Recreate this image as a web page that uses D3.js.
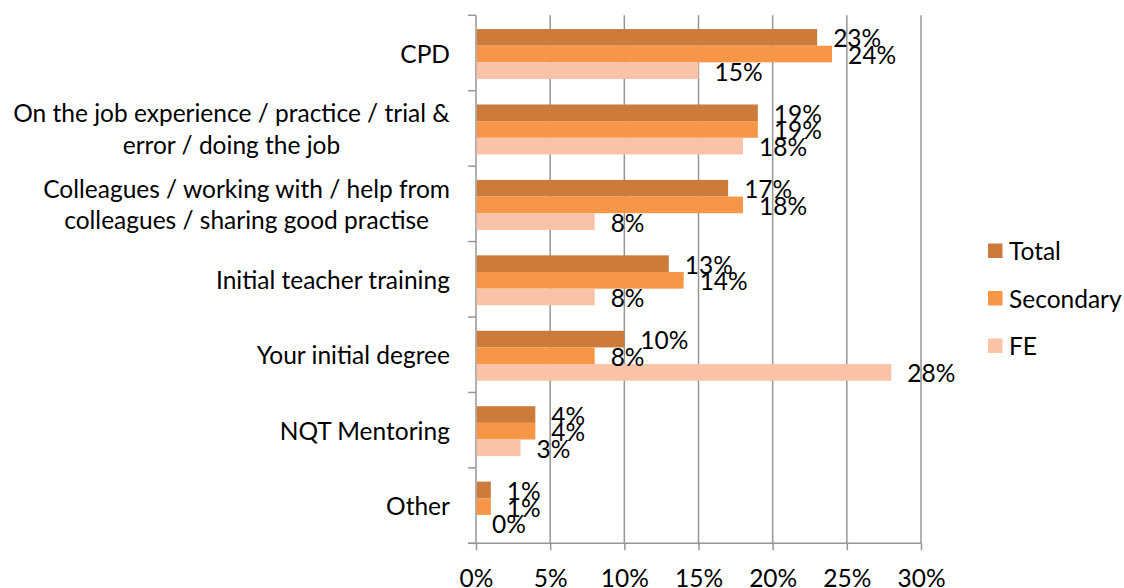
<!DOCTYPE html>
<html><head><meta charset="utf-8">
<script src="https://cdn.jsdelivr.net/npm/d3@7"></script>
<style>
body{margin:0;background:#fff;}
svg text{font-family:Lato,"Open Sans",sans-serif;fill:#000;}
</style></head>
<body><svg id="c" width="1124" height="588"></svg>
<script>
const categories = [
  ["CPD"],
  ["On the job experience / practice / trial &", "error / doing the job"],
  ["Colleagues / working with / help from", "colleagues / sharing good practise"],
  ["Initial teacher training"],
  ["Your initial degree"],
  ["NQT Mentoring"],
  ["Other"]
];
const seriesNames = ["Total", "Secondary", "FE"];
const totalValues     = [23, 19, 17, 13, 10, 4, 1];
const secondaryValues = [24, 19, 18, 14, 8, 4, 1];
const feValues        = [15, 18, 8, 8, 28, 3, 0];
const xTicks = [0, 5, 10, 15, 20, 25, 30];
const colors = ["#CD7B3A", "#F79646", "#FAC2A6"];

(function () {
const series = [totalValues, secondaryValues, feValues];
const svg = d3.select("#c");
const fs = 24.5;
const pl = 476, pr = 921, pt = 15.3, pb = 543.3;
const gridCol = "#969696";

const x = d3.scaleLinear().domain([0, 30]).range([pl, pr]);
const y = d3.scaleBand().domain(d3.range(categories.length)).range([pt, pb]).paddingInner(0).paddingOuter(0);
const yInner = d3.scaleBand().domain(d3.range(3)).range([0, y.bandwidth()])
  .paddingOuter(0.765).paddingInner(0).align(0.54);

// grid lines
svg.append("g").selectAll("line").data(xTicks.slice(1)).join("line")
  .attr("x1", d => x(d)).attr("x2", d => x(d))
  .attr("y1", pt).attr("y2", pb)
  .attr("stroke", gridCol).attr("stroke-width", 1.5);

// bottom axis
const xAxis = d3.axisBottom(x).tickValues(xTicks).tickFormat(d => d + "%").tickSize(7).tickSizeOuter(0);
const gx = svg.append("g").attr("transform", `translate(0,${pb})`).call(xAxis);
gx.select(".domain").attr("stroke", gridCol).attr("stroke-width", 1.5).attr("d", `M${pl-8},0H${pr}`);
gx.selectAll(".tick line").attr("stroke", gridCol).attr("stroke-width", 1.5);
gx.selectAll(".tick text").attr("font-size", fs + "px").attr("font-family", "Lato").attr("fill", "#000")
  .attr("y", 43.5).attr("dy", 0);

// left axis line and ticks
const bounds = d3.range(categories.length + 1).map(i => pt + i * y.bandwidth());
svg.append("line").attr("x1", pl).attr("x2", pl).attr("y1", pt).attr("y2", pb)
  .attr("stroke", gridCol).attr("stroke-width", 1.5);
svg.append("g").selectAll("line").data(bounds).join("line")
  .attr("x1", pl - 8).attr("x2", pl).attr("y1", d => d).attr("y2", d => d)
  .attr("stroke", gridCol).attr("stroke-width", 1.5);

// bars
const groups = svg.append("g").selectAll("g").data(categories).join("g")
  .attr("transform", (d, i) => `translate(0,${y(i)})`);
series.forEach((vals, s) => {
  groups.append("rect")
    .attr("x", pl + 0.75)
    .attr("y", yInner(s))
    .attr("width", (d, i) => Math.max(0, x(vals[i]) - pl - 0.75))
    .attr("height", yInner.bandwidth())
    .attr("fill", colors[s]);
});
series.forEach((vals, s) => {
  groups.append("text")
    .attr("x", (d, i) => x(vals[i]) + 16)
    .attr("y", yInner(s) + yInner.bandwidth() / 2 + 0.5)
    .attr("dominant-baseline", "central")
    .attr("font-size", fs + "px")
    .text((d, i) => vals[i] + "%");
});

// category labels
const lineH = 31.5;
categories.forEach((lines, i) => {
  const cy = y(i) + y.bandwidth() / 2;
  const t = svg.append("text").attr("font-size", fs + "px").attr("text-anchor", "middle");
  lines.forEach((ln, j) => {
    t.append("tspan").attr("x", 0).attr("y", cy + (j - (lines.length - 1) / 2) * lineH)
      .attr("dominant-baseline", "central").text(ln);
  });
  const w = t.node().getBBox().width;
  t.attr("transform", `translate(${450 - w / 2},0)`);
});

// legend
const lg = svg.append("g").selectAll("g").data(seriesNames).join("g")
  .attr("transform", (d, i) => `translate(988,${250.5 + i * 47.5})`);
lg.append("rect").attr("x", 0).attr("y", -7).attr("width", 14.5).attr("height", 14.5).attr("fill", (d, i) => colors[i]);
lg.append("text").attr("x", 21).attr("y", 0).attr("dominant-baseline", "central").attr("font-size", fs + "px").text(d => d);
})();
</script></body></html>
